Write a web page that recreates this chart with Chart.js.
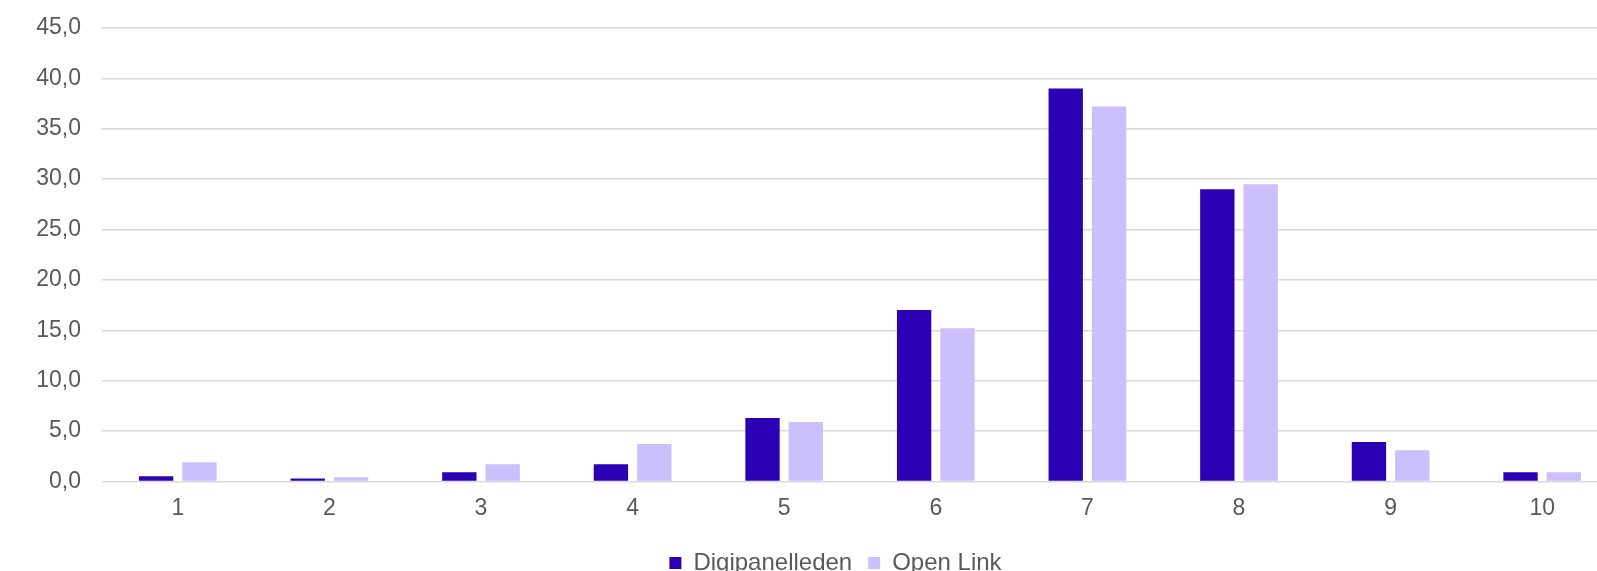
<!DOCTYPE html>
<html>
<head>
<meta charset="utf-8">
<script src="https://cdn.jsdelivr.net/npm/chart.js@4/dist/chart.umd.min.js"></script>
<style>
    html, body { margin: 0; padding: 0; overflow: hidden; background: #fff; }
    #wrap { position: relative; width: 1618px; height: 585px; }
</style>
</head>
<body>
<div id="wrap"><canvas id="scoreChart"></canvas></div>
<script>
const categories = ["1", "2", "3", "4", "5", "6", "7", "8", "9", "10"];
const digipanelleden = [0.5, 0.3, 0.9, 1.7, 6.3, 17.0, 39.0, 29.0, 3.9, 0.9];
const openLink = [1.9, 0.4, 1.7, 3.7, 5.9, 15.2, 37.2, 29.5, 3.1, 0.9];
const yTicks = [0, 5, 10, 15, 20, 25, 30, 35, 40, 45];

// nudge the legend so it sits where the original one does
const legendShift = {
    id: "legendShift",
    afterLayout: function (chart) {
        chart.legend.left += 9;
        chart.legend.right += 9;
    }
};

document.addEventListener("DOMContentLoaded", function () {
    const ctx = document.getElementById("scoreChart").getContext("2d");
    const grey = "#595959";

    new Chart(ctx, {
        type: "bar",
        data: {
            labels: categories,
            datasets: [{
                label: "Digipanelleden",
                data: digipanelleden,
                backgroundColor: "#2c00b4"
            }, {
                label: "Open Link",
                data: openLink,
                backgroundColor: "#cbbffc"
            }]
        },
        plugins: [legendShift],
        options: {
            responsive: true,
            maintainAspectRatio: false,
            animation: false,
            categoryPercentage: 0.572,
            barPercentage: 0.792,
            layout: { padding: { top: 28, left: 35, right: 0, bottom: 0 } },
            plugins: {
                tooltip: { enabled: false },
                legend: {
                    position: "bottom",
                    labels: {
                        boxWidth: 12,
                        boxHeight: 12,
                        padding: 16,
                        color: grey,
                        font: { family: "Liberation Sans", size: 24 }
                    }
                }
            },
            scales: {
                x: {
                    grid: { display: false, drawTicks: false },
                    border: { display: false },
                    ticks: {
                        padding: 13,
                        color: grey,
                        font: { family: "Liberation Sans", size: 23 }
                    }
                },
                y: {
                    min: yTicks[0],
                    max: yTicks[yTicks.length - 1],
                    afterBuildTicks: function (scale) {
                        scale.ticks = yTicks.map(function (v) { return { value: v }; });
                    },
                    afterFit: function (scale) {
                        scale.width = 67;
                        scale.paddingTop = 0;
                        scale.paddingBottom = 0;
                    },
                    grid: { color: "#d9d9d9", lineWidth: 1.5, drawTicks: false },
                    border: { display: false },
                    ticks: {
                        padding: 21,
                        color: grey,
                        font: { family: "Liberation Sans", size: 23 },
                        callback: function (v) { return v.toFixed(1).replace(".", ","); }
                    }
                }
            }
        }
    });
});
</script>
</body>
</html>
